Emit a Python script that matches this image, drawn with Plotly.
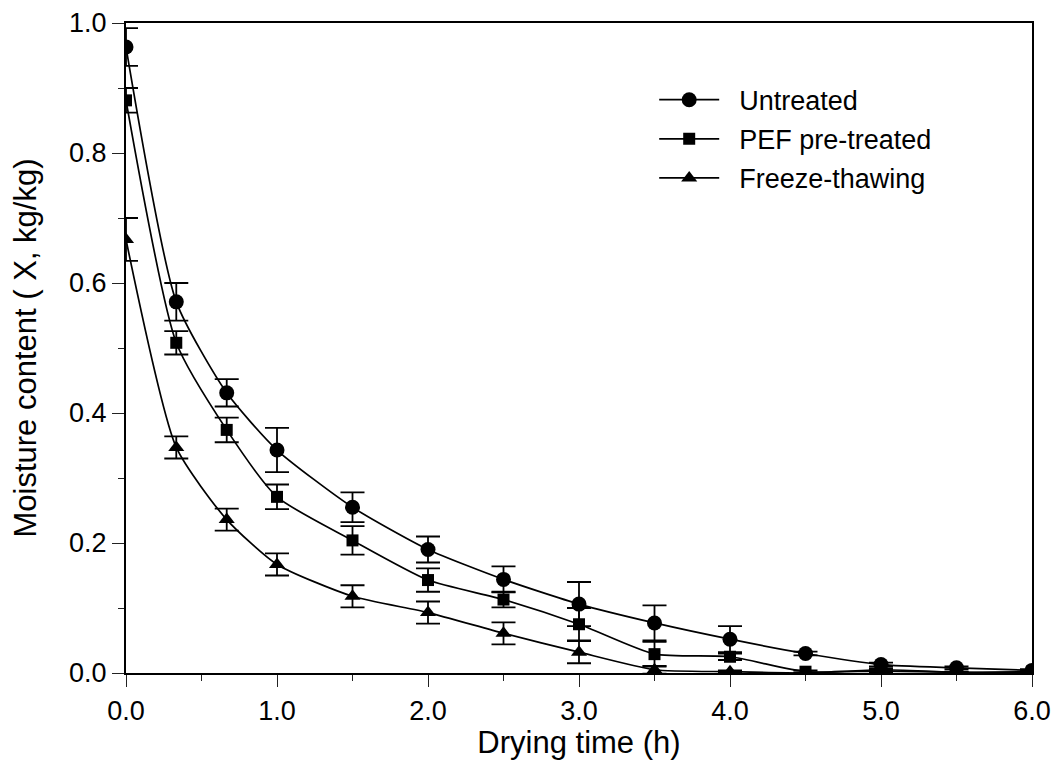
import plotly.graph_objects as go

time_h = [0.0, 0.333, 0.667, 1.0, 1.5, 2.0, 2.5, 3.0, 3.5, 4.0, 4.5, 5.0, 5.5, 6.0]

untreated = [0.963, 0.571, 0.431, 0.343, 0.255, 0.190, 0.144, 0.106, 0.077, 0.052, 0.030, 0.013, 0.008, 0.004]
untreated_err = [0.029, 0.029, 0.021, 0.034, 0.023, 0.020, 0.020, 0.034, 0.027, 0.020, 0.003, 0.003, 0.002, 0.002]

pef = [0.881, 0.508, 0.374, 0.271, 0.204, 0.143, 0.113, 0.075, 0.029, 0.025, 0.002, 0.003, 0.001, 0.002]
pef_err = [0.019, 0.018, 0.019, 0.019, 0.022, 0.018, 0.012, 0.025, 0.019, 0.005, 0.002, 0.002, 0.001, 0.001]

freeze = [0.667, 0.347, 0.236, 0.167, 0.118, 0.093, 0.061, 0.032, 0.005, 0.002, 0.000, 0.005, 0.001, 0.001]
freeze_err = [0.033, 0.017, 0.017, 0.017, 0.017, 0.017, 0.017, 0.017, 0.006, 0.002, 0.001, 0.002, 0.001, 0.001]

x_ticks = [0, 1, 2, 3, 4, 5, 6]
x_ticklabels = ["0.0", "1.0", "2.0", "3.0", "4.0", "5.0", "6.0"]
y_ticks = [0.0, 0.2, 0.4, 0.6, 0.8, 1.0]
y_ticklabels = ["0.0", "0.2", "0.4", "0.6", "0.8", "1.0"]

series = [
    ("Untreated", untreated, untreated_err, "circle", 15),
    ("PEF pre-treated", pef, pef_err, "square", 12),
    ("Freeze-thawing", freeze, freeze_err, "triangle-up", 14),
]

fig = go.Figure()
for i, (name, vals, errs, sym, size) in enumerate(series):
    fig.add_trace(go.Scatter(
        x=time_h, y=vals, name="&nbsp;&nbsp;" + name, mode="lines+markers",
        line=dict(color="black", width=1.7, shape="spline", smoothing=0.6),
        marker=dict(symbol=sym, size=size, color="black"),
        error_y=dict(type="data", array=errs, visible=True, color="black",
                     thickness=1.8, width=12),
        legendgroup=f"g{i}",
    ))

font = "Liberation Sans, Arial, sans-serif"
fig.update_layout(
    width=1062, height=765,
    margin=dict(l=126, r=30, t=23, b=92, autoexpand=False),
    paper_bgcolor="white", plot_bgcolor="white",
    font=dict(family=font, size=27, color="black"),
    showlegend=True,
    legend=dict(x=0.583, y=0.919, xanchor="left", yanchor="top",
                bgcolor="rgba(0,0,0,0)", font=dict(size=27),
                traceorder="grouped", tracegroupgap=1, itemwidth=60),
    xaxis=dict(range=[0, 6], tickvals=x_ticks, ticktext=x_ticklabels,
               automargin=False,
               ticks="outside", ticklen=12, tickwidth=1.3, tickcolor="#222",
               minor=dict(dtick=0.5, ticks="outside", ticklen=6, tickwidth=1.3, tickcolor="#222"),
               showline=True, linewidth=2.2, linecolor="black", mirror=True,
               showgrid=False, zeroline=False,
               title=dict(text="Drying time (h)", font=dict(size=31), standoff=1),
               tickfont=dict(size=27)),
    yaxis=dict(range=[0, 1.0], tickvals=y_ticks, ticktext=y_ticklabels,
               automargin=False,
               ticks="outside", ticklen=12, tickwidth=1.3, tickcolor="#222",
               minor=dict(dtick=0.1, ticks="outside", ticklen=6, tickwidth=1.3, tickcolor="#222"),
               showline=True, linewidth=2.2, linecolor="black", mirror=True,
               showgrid=False, zeroline=False,
               title=dict(text="Moisture content ( X, kg/kg)", font=dict(size=31), standoff=23),
               tickfont=dict(size=27)),
)

fig.write_html("out.html")
